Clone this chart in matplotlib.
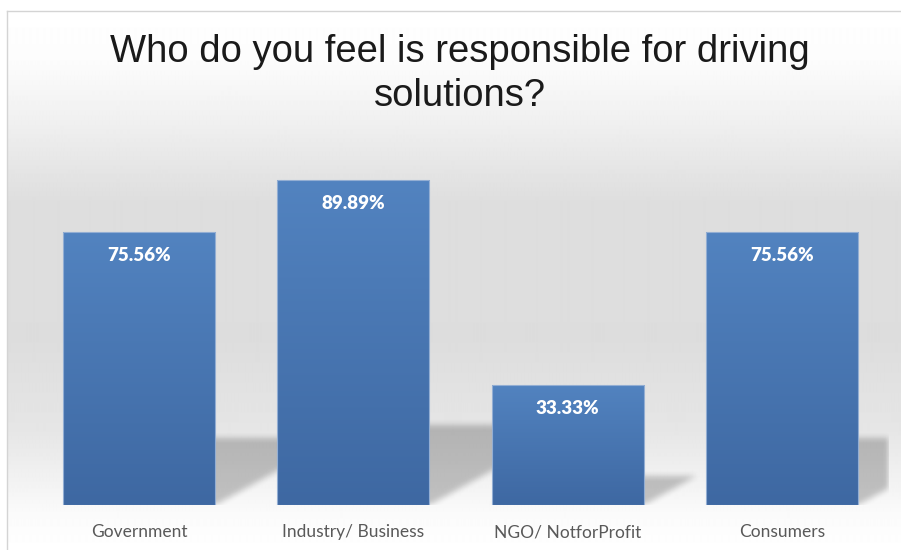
import matplotlib
matplotlib.use('Agg')
import matplotlib.pyplot as plt
import numpy as np
from matplotlib.colors import LinearSegmentedColormap

categories = ["Government", "Industry/ Business", "NGO/ NotforProfit", "Consumers"]
values = [75.56, 89.89, 33.33, 75.56]
labels = ["75.56%", "89.89%", "33.33%", "75.56%"]
title = "Who do you feel is responsible for driving\nsolutions?"

W, H = 901, 550
fig = plt.figure(figsize=(W / 100, H / 100), dpi=100)
fig.patch.set_facecolor("white")

# chart area backdrop: white -> light grey -> white, vertical gradient
bg = fig.add_axes([7 / W, 0, 1 - 7 / W, 539 / H], zorder=0)
ypx = np.array([0, 50, 110, 190, 330, 420, 470, 500, 539])
gry = np.array([255, 252, 240, 222, 221, 230, 242, 250, 255]) / 255
rows = np.interp(np.arange(539), ypx, gry)
bg.imshow(np.repeat(rows[:, None], 4, axis=1), cmap="gray", vmin=0, vmax=1,
          aspect="auto", extent=(0, 1, 0, 1), interpolation="bilinear")
bg.set_xlim(0, 1); bg.set_ylim(0, 1)
bg.set_xticks([]); bg.set_yticks([])
for side in ("right", "bottom"):
    bg.spines[side].set_visible(False)
for side in ("left", "top"):
    bg.spines[side].set_color("#d4d4d4")
    bg.spines[side].set_linewidth(1.0)

ax = fig.add_axes([32 / W, 45 / H, 857 / W, 361.3 / H], zorder=1)
ax.patch.set_alpha(0)
ax.set_xlim(-0.5, 3.5)
ax.set_ylim(0, 100)
x = np.arange(len(categories))
bw = 0.71

# soft floor shadows cast back and to the right of each bar
nx, ny = 857, 361
gx = -0.5 + (np.arange(nx) + 0.5) / nx * 4
gy = (np.arange(ny) + 0.5) / ny * 100
XX, YY = np.meshgrid(gx, gy)
mask = np.zeros_like(XX)
for xi, v in zip(x, values):
    s = 0.245 * v
    dx = 0.00752 * v
    t = YY / s
    inside = (YY <= s) & (XX >= xi - bw / 2 + t * dx) & (XX <= xi + bw / 2 + t * dx)
    mask[inside] = 1.0
k = np.ones(7) / 7
for _ in range(2):
    mask = np.apply_along_axis(lambda r: np.convolve(r, k, mode="same"), 1, mask)
    mask = np.apply_along_axis(lambda c: np.convolve(c, k, mode="same"), 0, mask)
shadow = np.zeros((ny, nx, 4))
shadow[..., 3] = 0.22 * mask
ax.imshow(shadow, extent=(-0.5, 3.5, 0, 100), origin="lower", aspect="auto",
          zorder=1, interpolation="bilinear")

# bars with a top-to-bottom blue gradient
blue = LinearSegmentedColormap.from_list("bar", ["#3e68a2", "#5283c0"])
grad = np.linspace(0, 1, 256)[:, None]
bars = ax.bar(x, values, width=bw, color="none", edgecolor="#93aed3",
              linewidth=0.8, zorder=3)
for b, v in zip(bars, values):
    im = ax.imshow(grad, cmap=blue, origin="lower", aspect="auto", zorder=2,
                   extent=(b.get_x(), b.get_x() + b.get_width(), 0, v))
    im.set_clip_path(b)
ax.set_xlim(-0.5, 3.5)
ax.set_ylim(0, 100)

for xi, v, lab in zip(x, values, labels):
    ax.annotate(lab, (xi, v), xytext=(0, -17), textcoords="offset points",
                ha="center", va="center", color="white", fontsize=13.5,
                fontweight="heavy", family="Lato", zorder=4)

ax.set_xticks(x)
ax.set_xticklabels(categories, fontsize=12.5, color="#595959", family="Lato")
ax.tick_params(axis="x", length=0, pad=14)
ax.set_yticks([])
for sp in ax.spines.values():
    sp.set_visible(False)

fig.text(460 / W, 1 - 74 / H, title, ha="center", va="center", fontsize=27.5,
         family="Liberation Sans", color="#1a1a1a", linespacing=1.32)

fig.savefig("out.png", dpi=100)
